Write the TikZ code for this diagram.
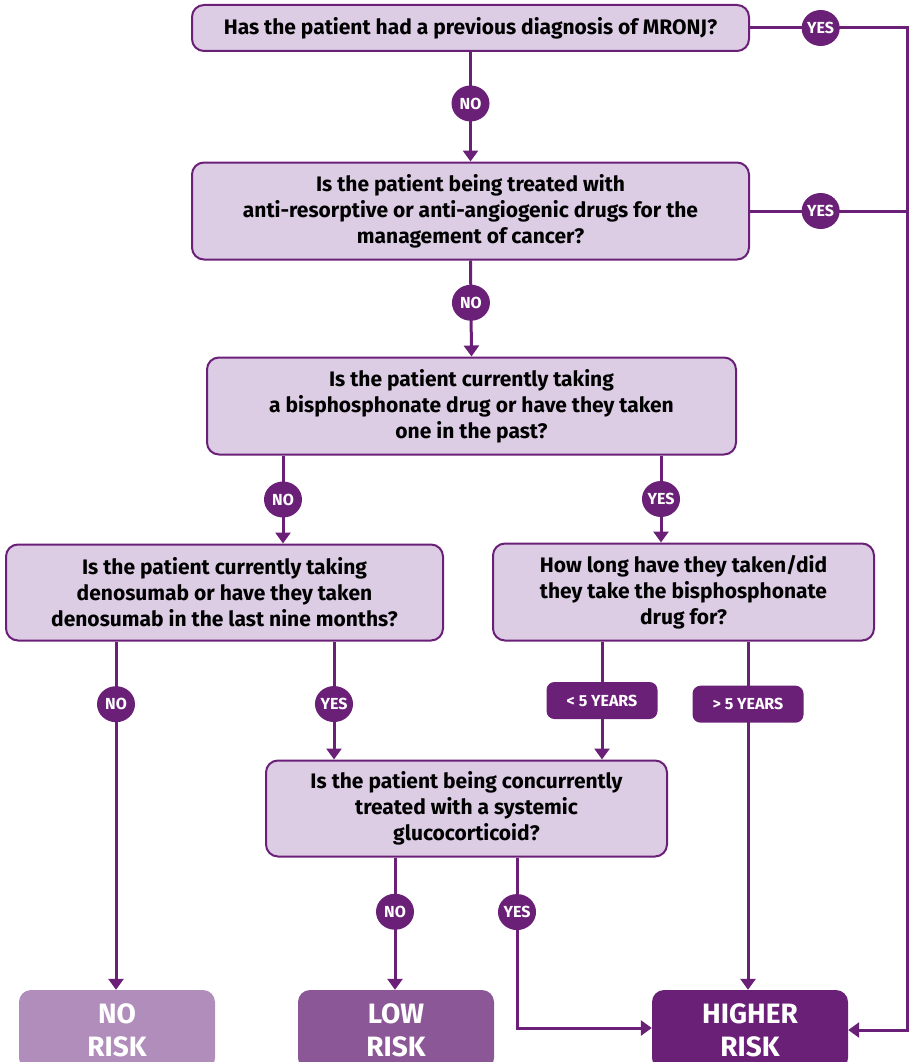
\documentclass[tikz,border=0pt]{standalone}
\usepackage{fontspec}
\setmainfont{Fira Sans}
\usetikzlibrary{arrows.meta}
\definecolor{purp}{RGB}{107,32,120}
\definecolor{boxfill}{RGB}{220,205,229}
\definecolor{norisk}{RGB}{176,141,187}
\definecolor{lowrisk}{RGB}{139,87,150}
\tikzset{
  qbox/.style={draw=purp, fill=boxfill, line width=2pt, rounded corners=12pt,
    align=center, inner sep=0pt, font=\fontsize{21}{26}\selectfont\bfseries},
  riskbox/.style={rounded corners=12pt, minimum width=196pt, minimum height=80pt,
    align=center, inner sep=0pt, text=white, font=\fontsize{28}{33}\selectfont\bfseries},
  yn/.style={ellipse, fill=purp, text=white, minimum width=38pt, minimum height=36pt,
    inner sep=0pt, font=\fontsize{16}{16}\selectfont\bfseries},
  yrs/.style={fill=purp, text=white, rounded corners=8pt, minimum width=111pt,
    minimum height=37pt, inner sep=0pt, font=\fontsize{16}{16}\selectfont\bfseries},
  line/.style={draw=purp, line width=3pt},
  arr/.style={line, -{Triangle[width=15pt,length=11pt]}}
}
\usetikzlibrary{shapes.geometric}
\begin{document}
\begin{tikzpicture}[x=1pt,y=-1pt]
\useasboundingbox (0,0) rectangle (909,1062);
\begin{scope}
\clip (0,0) rectangle (909,1062);
% questions
\node[qbox, minimum width=557pt, minimum height=46pt] (q1) at (470.5,28)
  {Has the patient had a previous diagnosis of MRONJ?};
\node[qbox, minimum width=557pt, minimum height=97pt] (q2) at (470.5,211)
  {Is the patient being treated with\\anti-resorptive or anti-angiogenic drugs for the\\management of cancer?};
\node[qbox, minimum width=529pt, minimum height=97pt] (q3) at (471.5,406)
  {Is the patient currently taking\\a bisphosphonate drug or have they taken\\one in the past?};
\node[qbox, minimum width=437pt, minimum height=96pt] (q4) at (224.5,592.5)
  {Is the patient currently taking\\denosumab or have they taken\\denosumab in the last nine months?};
\node[qbox, minimum width=381pt, minimum height=97pt] (q5) at (683.5,592)
  {How long have they taken/did\\they take the bisphosphonate\\drug for?};
\node[qbox, minimum width=401pt, minimum height=96pt] (q6) at (466.5,808.5)
  {Is the patient being concurrently\\treated with a systemic\\glucocorticoid?};
% outcomes
\node[riskbox, fill=norisk] (nr) at (117,1030) {NO\\RISK};
\node[riskbox, fill=lowrisk] (lr) at (396,1030) {LOW\\RISK};
\node[riskbox, fill=purp] (hr) at (750,1030) {HIGHER\\RISK};
% connectors
\draw[arr] (q1.south) -- node[yn, pos=0.47] {NO} (q2.north);
\draw[arr] (q1.east) -- node[yn, pos=0.45] {YES} (q1.east -| 907,0) |- (hr.east);
\draw[line] (q2.east) -- node[yn, pos=0.45] {YES} (q2.east -| 907,0);
\draw[arr] (q2.south) -- node[yn, pos=0.44] {NO} (q3.north);
\draw[arr] (q3.south -| 283,0) -- node[yn] {NO} (q4.north -| 283,0);
\draw[arr] (q3.south -| 661,0) -- node[yn] {YES} (q5.north -| 661,0);
\draw[arr] (q4.south -| 116,0) -- node[yn, pos=0.18] {NO} (nr.north -| 116,0);
\draw[arr] (q4.south -| 334,0) -- node[yn, pos=0.53] {YES} (q6.north -| 334,0);
\draw[arr] (q5.south -| 602,0) -- node[yrs] {\textless{} 5 YEARS} (q6.north -| 602,0);
\draw[arr] (q5.south -| 748,0) -- node[yrs, pos=0.18] {\textgreater{} 5 YEARS} (hr.north -| 748,0);
\draw[arr] (q6.south -| 395,0) -- node[yn, pos=0.41] {NO} (lr.north -| 395,0);
\draw[arr] (q6.south -| 517,0) -- node[yn, pos=0.32] {YES} (517,1028) -- (hr.west |- 0,1028);
\end{scope}
\end{tikzpicture}
\end{document}
